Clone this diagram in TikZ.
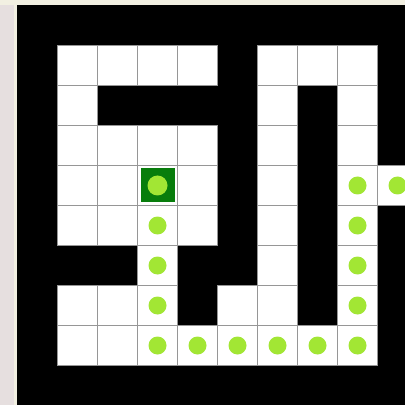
\documentclass[tikz,border=0pt]{standalone}
\usepackage{tikz}

\definecolor{bezel}{RGB}{230,223,223}
\definecolor{rim}{RGB}{242,240,226}
\definecolor{gridgray}{RGB}{150,150,150}
\definecolor{pathdot}{RGB}{162,230,52}
\definecolor{startgreen}{RGB}{8,125,12}

\tikzset{
  cell/.style={fill=white, draw=gridgray, line width=1.4pt},
  pathmark/.style={fill=pathdot},
  startbox/.style={fill=startgreen}
}

\begin{document}
\begin{tikzpicture}[x=0.025cm, y=-0.025cm]
  \useasboundingbox (0,0) rectangle (405,405);
  % --- frame round the maze ---
  \fill[rim] (0,0) rectangle (405,405);
  \fill[bezel] (0,5) rectangle (14,405);
  \fill[black] (17,5) rectangle (405,405);

  % --- open cells (column/row) ---
  \begin{scope}[xshift=57.5*0.025cm, yshift=-45.5*0.025cm]
    \foreach \c/\r in {0/0,1/0,2/0,3/0,5/0,6/0,7/0,
                       0/1,5/1,7/1,
                       0/2,1/2,2/2,3/2,5/2,7/2,
                       0/3,1/3,2/3,3/3,5/3,7/3,
                       0/4,1/4,2/4,3/4,5/4,7/4,
                       2/5,5/5,7/5,
                       0/6,1/6,2/6,4/6,5/6,7/6,
                       0/7,1/7,2/7,3/7,4/7,5/7,6/7,7/7}
      \draw[cell] ({40*\c},{40*\r}) rectangle +(40,40);
    % exit cell, cut by the right edge
    \draw[cell] (320,120) rectangle (350,160);

    % start cell
    \fill[startbox] (83,123) rectangle +(34,34);
    \fill[pathmark] (100,140) circle (10);

    % --- path found ---
    \foreach \c/\r in {2/4,2/5,2/6,2/7,3/7,4/7,5/7,6/7,7/7,
                       7/6,7/5,7/4,7/3,8/3}
      \fill[pathmark] ({40*\c+20},{40*\r+20}) circle (9);
  \end{scope}
\end{tikzpicture}
\end{document}
